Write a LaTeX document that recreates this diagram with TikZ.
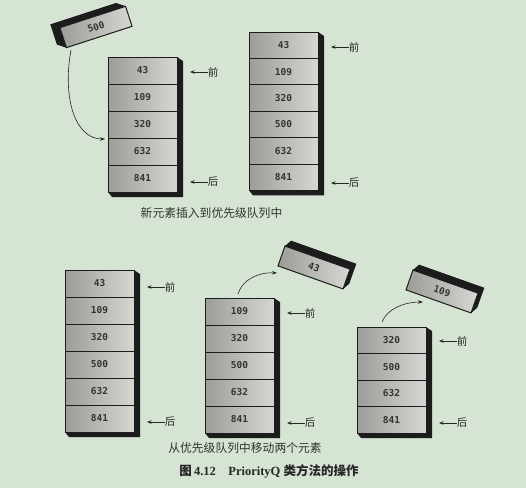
\documentclass[tikz,border=0pt]{standalone}
\usepackage{fontspec}
\setmainfont{Liberation Serif}
\newfontfamily\cjk{Noto Sans CJK SC}
\newfontfamily\numfont{DejaVu Sans Mono}
\usetikzlibrary{arrows.meta}
\definecolor{bg}{RGB}{213,228,211}
\definecolor{cellL}{RGB}{156,157,153}
\definecolor{cellR}{RGB}{214,215,210}
\definecolor{ink}{RGB}{28,28,28}
\tikzset{
  cell/.style={draw=ink, line width=1pt, minimum width=69pt, inner sep=0pt,
    left color=cellL, right color=cellR,
    font=\numfont\bfseries\fontsize{9.5}{10}\selectfont, text=black!80},
  ext/.style={fill=ink},
  tagarrow/.style={-{Stealth[length=4.5pt,width=3.5pt]}, line width=0.8pt, draw=black!85},
  bendarrow/.style={-{Stealth[length=5pt,width=3.5pt]}, line width=0.6pt, draw=black!85},
  tag/.style={font=\cjk\fontsize{10.5}{11}\selectfont, inner sep=0pt, text=black!85},
  captxt/.style={font=\cjk\fontsize{11.8}{12}\selectfont, text=black!80, inner sep=0pt},
}
% #1 name, #2 left, #3 top, #4 row height, #5 rows, #6 values
\newcommand\pqstack[6]{%
  \fill[ext] (#2+69,#3) -- (#2+75,#3+4) -- (#2+75,{#3+#4*#5+5}) -- (#2+4,{#3+#4*#5+5}) -- (#2,{#3+#4*#5}) -- cycle;
  \foreach \v [count=\i] in {#6} {
    \node[cell, minimum height=#4pt] (#1-\i) at (#2+34.5,{#3+#4*(\i-0.5)}) {\v};
  }%
}
% #1 name, #2 right x, #3 front y, #4 rear y
\newcommand\pqtags[4]{%
  \node[tag] (#1-f) at (#2+36,#3) {前};
  \coordinate (#1-fa) at (#2+13,#3);
  \draw[tagarrow] (#1-f.west) -- (#1-fa);
  \node[tag] (#1-r) at (#2+36,#4) {后};
  \coordinate (#1-ra) at (#2+13,#4);
  \draw[tagarrow] (#1-r.west) -- (#1-ra);
}
% #1 name, #2 cx, #3 cy, #4 angle, #5 text, #6 dx, #7 dy (depth offset, local)
\newcommand\tiltbox[7]{%
  \begin{scope}[shift={(#2,#3)}, rotate=#4]
    \fill[ext] ({-34.5+(#6)},{-10.5+(#7)}) rectangle ({34.5+(#6)},{10.5+(#7)});
    \fill[ext] (-34.5,-10.5) -- ({-34.5+(#6)},{-10.5+(#7)}) -- ({34.5+(#6)},{-10.5+(#7)}) -- (34.5,-10.5) -- cycle;
    \fill[ext] (34.5,-10.5) -- ({34.5+(#6)},{-10.5+(#7)}) -- ({34.5+(#6)},{10.5+(#7)}) -- (34.5,10.5) -- cycle;
    \fill[ext] (-34.5,10.5) -- ({-34.5+(#6)},{10.5+(#7)}) -- ({34.5+(#6)},{10.5+(#7)}) -- (34.5,10.5) -- cycle;
    \fill[ext] (-34.5,-10.5) -- ({-34.5+(#6)},{-10.5+(#7)}) -- ({-34.5+(#6)},{10.5+(#7)}) -- (-34.5,10.5) -- cycle;
    \node[cell, minimum height=21pt, transform shape] (#1) at (0,0) {#5};
  \end{scope}%
}
\begin{document}
\begin{tikzpicture}[x=1pt,y=-1pt]
\useasboundingbox (0,0) rectangle (526,488);
\fill[bg] (0,0) rectangle (526,488);

% top: insertion
\tiltbox{b500}{96}{27}{18}{500}{-8}{-6}
\pqstack{s1}{108}{57}{27}{5}{43,109,320,632,841}
\pqtags{t1}{177}{72}{182}
\coordinate (c1a) at (71,50);
\coordinate (c1b) at (105,139);
\draw[bendarrow] (c1a) .. controls (62,100) and (76,139) .. (c1b);

\pqstack{s2}{249}{32}{26.4}{6}{43,109,320,500,632,841}
\pqtags{t2}{318}{47}{183}

\node[captxt] (cap1) at (211.5,213) {新元素插入到优先级队列中};

% bottom: removal
\pqstack{s3}{65}{270}{27}{6}{43,109,320,500,632,841}
\pqtags{t3}{134}{287}{422}

\tiltbox{b43}{314}{267.5}{-19.5}{43}{4}{-7}
\pqstack{s4}{205}{298}{27}{5}{109,320,500,632,841}
\pqtags{t4}{274}{313}{423}
\coordinate (c2a) at (238,294);
\coordinate (c2b) at (277,273);
\draw[bendarrow] (c2a) .. controls (242,280) and (258,272) .. (c2b);

\tiltbox{b109}{442}{291.5}{-19.5}{109}{4}{-7}
\pqstack{s5}{357}{327}{26.5}{4}{320,500,632,841}
\pqtags{t5}{426}{341}{423}
\coordinate (c3a) at (382,322);
\coordinate (c3b) at (423,302);
\draw[bendarrow] (c3a) .. controls (387,309) and (404,302) .. (c3b);

\node[captxt] (cap2) at (245,448) {从优先级队列中移动两个元素};
\node[inner sep=0pt, text=black!85, font=\bfseries\fontsize{12.5}{13}\selectfont] (figcap) at (269,471)
  {{\cjk\bfseries 图}\,4.12\quad PriorityQ {\cjk\bfseries 类方法的操作}};
\end{tikzpicture}
\end{document}
